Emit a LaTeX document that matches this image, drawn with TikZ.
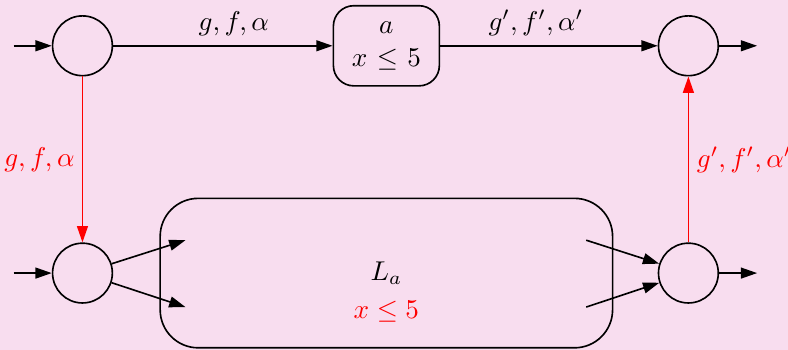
\documentclass[tikz,border=0pt]{standalone}
\usetikzlibrary{matrix,positioning,arrows.meta,backgrounds}
\definecolor{bgpink}{RGB}{248,221,239}

\begin{document}
\begin{tikzpicture}[
    >={Triangle[length=6pt,width=4pt]},
    loc/.style={circle, draw, semithick, minimum size=22pt, inner sep=0pt},
    inv/.style={draw, semithick, rounded corners=7.5pt, minimum width=39pt, minimum height=29.5pt, text width=35pt, align=center, inner sep=2pt},
    sub/.style={draw, semithick, rounded corners=14pt, minimum width=166.5pt, minimum height=55pt},
    trans/.style={->, semithick},
    reset/.style={->, semithick, red}]
    \matrix (m) [matrix of nodes,
            nodes in empty cells,
            ampersand replacement=\&,
            nodes={anchor=center},
            row sep=40.8pt,
            column sep=17pt] {
      |[loc] (q0)| {} \& |[inv] (a)| {$a$\\$x \leq 5$} \&[-0.7pt] |[loc] (q1)| {} \\
      |[loc] (r0)| {} \& |[sub] (La)| $L_a$ \& |[loc] (r1)| {} \\
    };
    \node[red] (La-guard) at ([yshift=-14pt]La.center) {$x \leq 5$};
    % free ends
    \coordinate[left=14pt of q0] (q0-in);
    \coordinate[right=14pt of q1] (q1-out);
    \coordinate[left=14pt of r0] (r0-in);
    \coordinate[right=14pt of r1] (r1-out);
    \coordinate[above right=12.1pt and 9.6pt of La.west] (La-in1);
    \coordinate[below right=12.5pt and 9.6pt of La.west] (La-in2);
    \coordinate[above left=12.1pt and 10pt of La.east] (La-out1);
    \coordinate[below left=12.5pt and 10pt of La.east] (La-out2);
    % top row
    \draw[trans] (q0-in) -- (q0);
    \draw[trans] (q0) -- node[above, pos=0.55] {$g, f, \alpha$} (a);
    \draw[trans] (a) -- node[above, pos=0.44] {$g', f', \alpha'$} (q1);
    \draw[trans] (q1) -- (q1-out);
    % resets
    \draw[reset] (q0) -- node[left, inner sep=2.6pt] {$g, f, \alpha$} (r0);
    \draw[reset] (r1) -- node[right, inner sep=2.8pt] {$g', f', \alpha'$} (q1);
    % bottom row
    \draw[trans] (r0-in) -- (r0);
    \draw[trans] (r0) -- (La-in1);
    \draw[trans] (r0) -- (La-in2);
    \draw[trans] (La-out1) -- (r1);
    \draw[trans] (La-out2) -- (r1);
    \draw[trans] (r1) -- (r1-out);
    \coordinate (bl) at ([shift={(-142.2pt,-28.3pt)}]La.center);
    \coordinate (tr) at ([shift={(147.8pt,100.5pt)}]La.center);
    \begin{scope}[on background layer]
      \fill[bgpink] (bl) rectangle (tr);
    \end{scope}
    \pgfresetboundingbox
    \useasboundingbox (bl) rectangle (tr);
    \end{tikzpicture}
\end{document}
